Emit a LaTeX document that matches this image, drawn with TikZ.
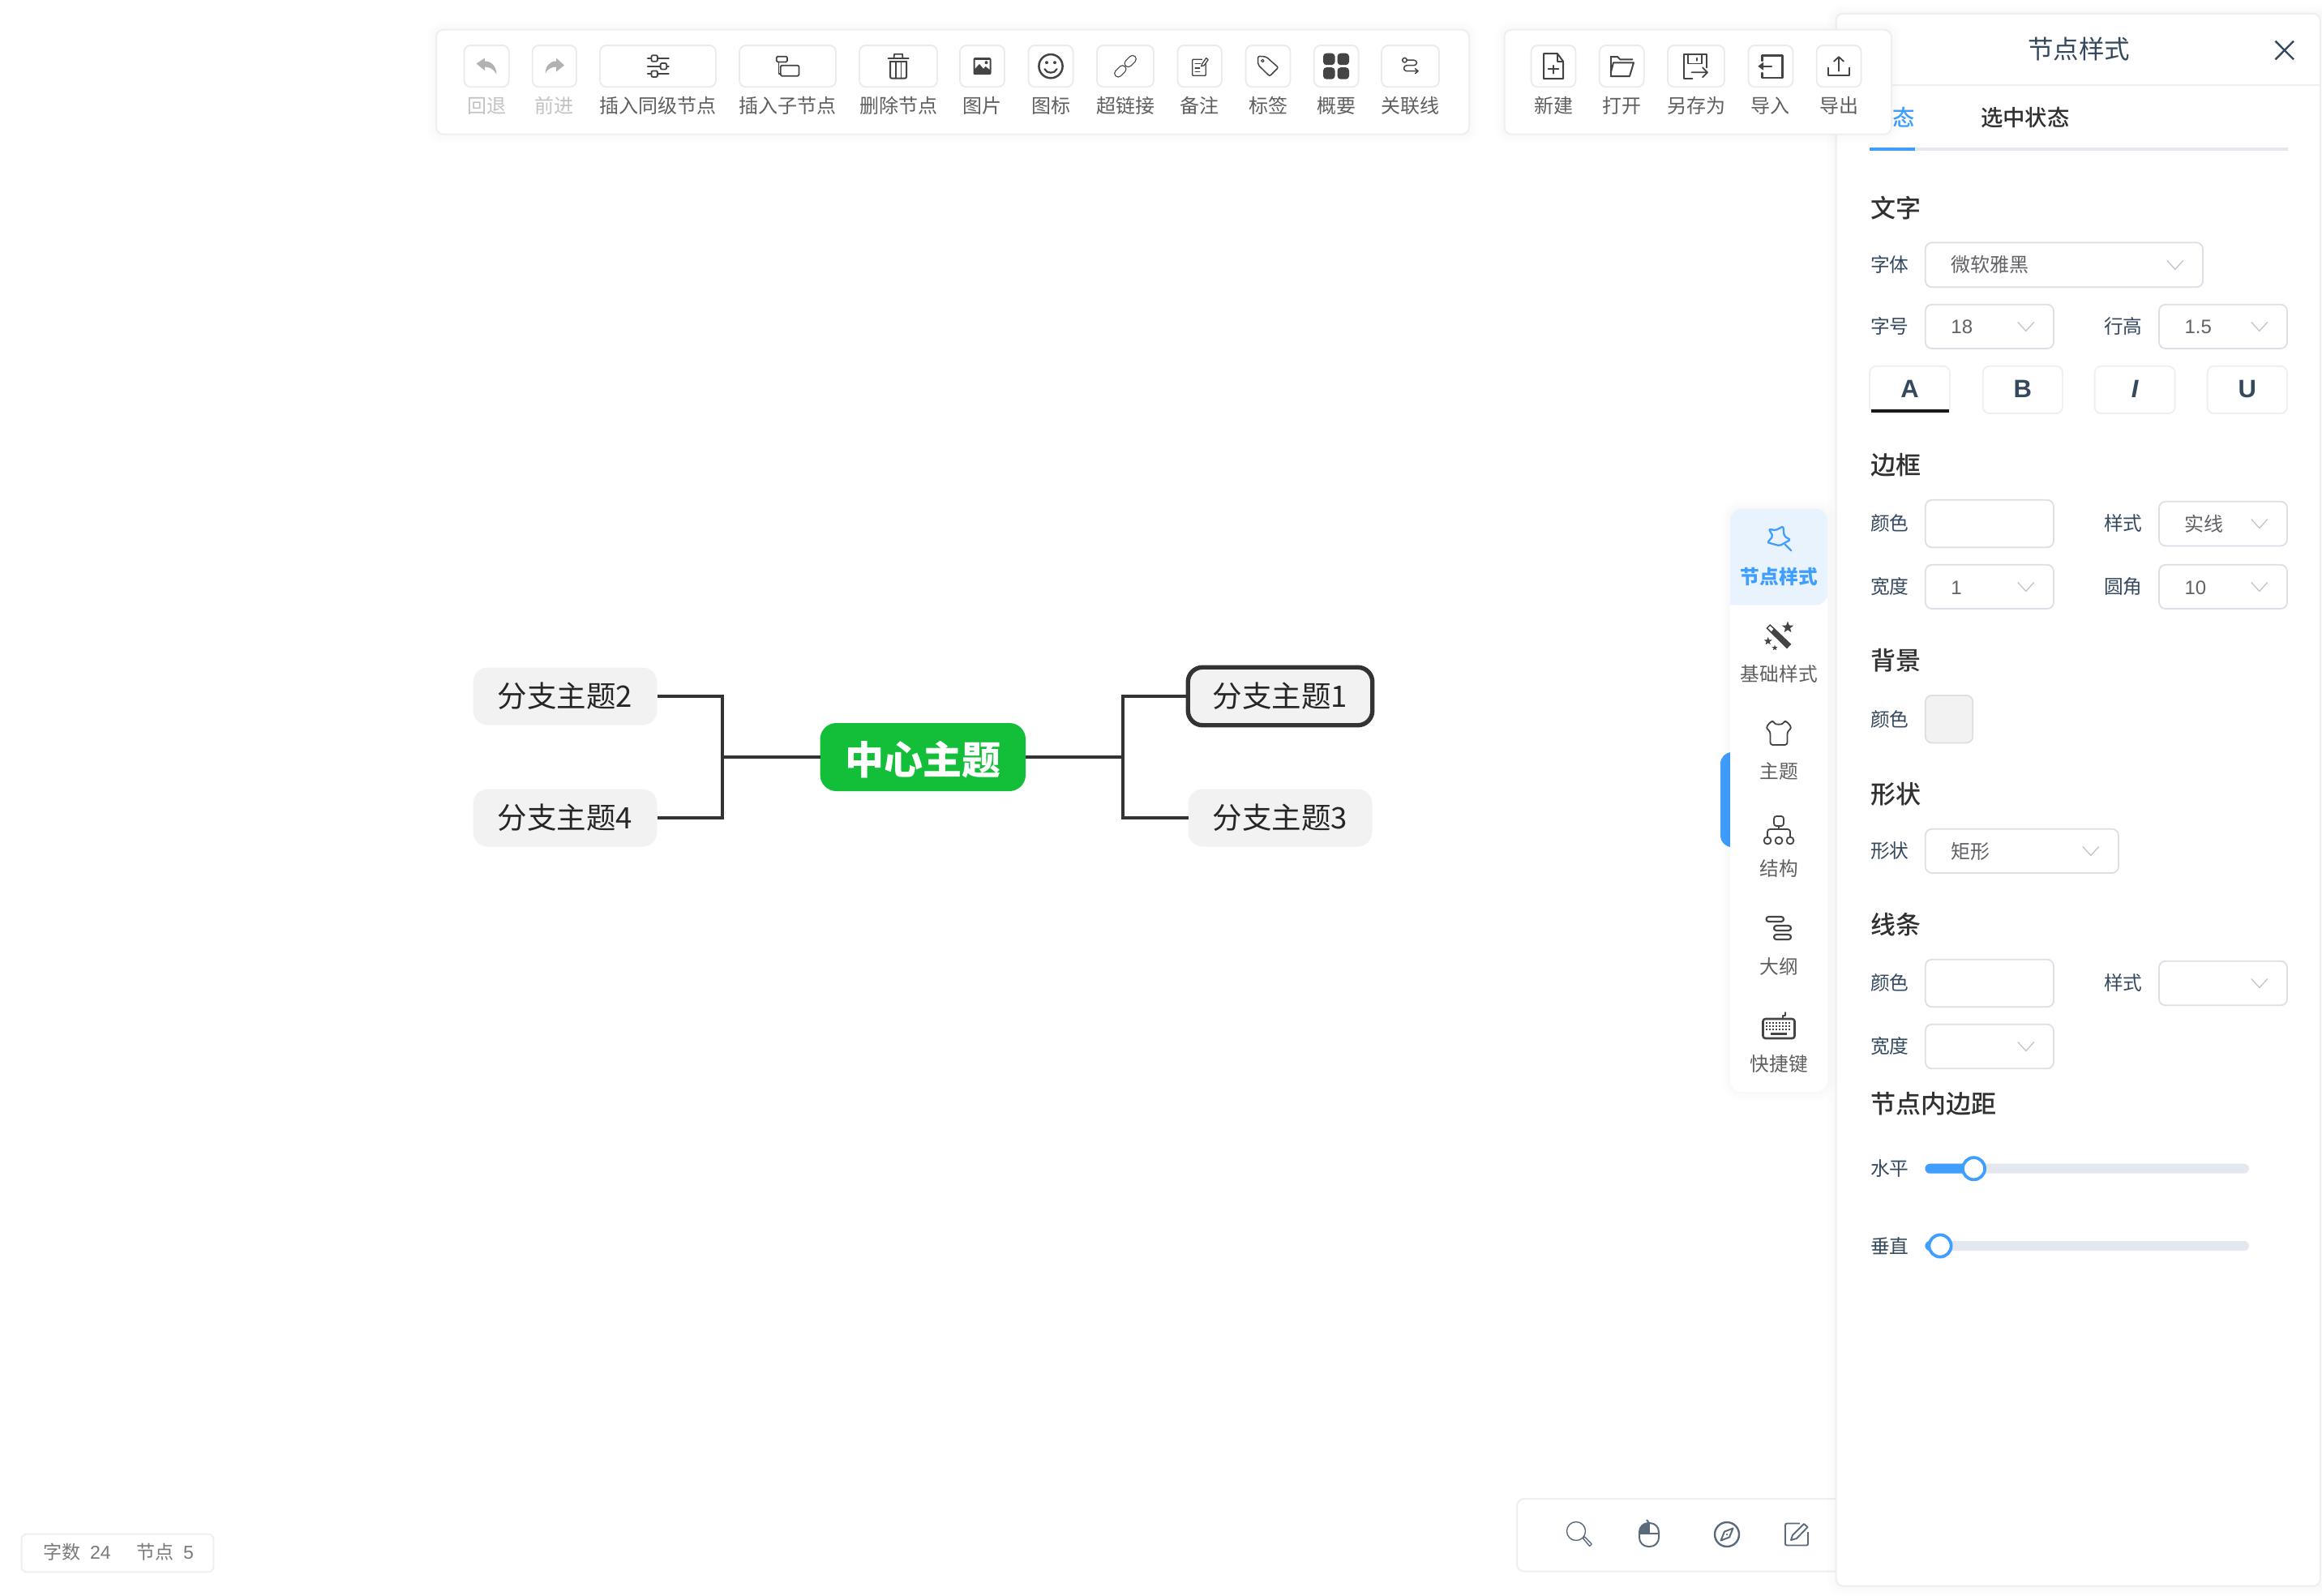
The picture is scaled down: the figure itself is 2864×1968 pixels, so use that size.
\documentclass[tikz,border=0pt]{standalone}
\usepackage{fontspec}
\setmainfont{Noto Sans CJK SC}
\newfontfamily\cjkmed{Noto Sans CJK SC Medium}
\newfontfamily\latn{Liberation Sans}
\definecolor{ink}{HTML}{444444}
\definecolor{lab}{HTML}{5F5F5F}
\definecolor{dim}{HTML}{C2C2C2}
\definecolor{edge}{HTML}{EFEFEF}
\definecolor{btnedge}{HTML}{EBEBEB}
\definecolor{field}{HTML}{DCDFE6}
\definecolor{chev}{HTML}{C0C4CC}
\definecolor{blue}{HTML}{409EFF}
\definecolor{navy}{HTML}{34495E}
\definecolor{head}{HTML}{303133}
\definecolor{val}{HTML}{606266}
\definecolor{track}{HTML}{E4E7ED}
\definecolor{green}{HTML}{13BE38}
\definecolor{pale}{HTML}{F2F2F2}
\definecolor{side}{HTML}{E9F3FE}
\definecolor{slate}{HTML}{5A6A7C}
\tikzset{
  txt/.style={font=\fontsize{#1}{#1}\selectfont, inner sep=0pt, outer sep=0pt, text height={0.88*#1pt}, text depth={0.12*#1pt}},
  tlabel/.style={txt=24, text=lab},
  tbox/.style={draw=btnedge, line width=1.8pt, rounded corners=8pt, fill=white},
  panelbox/.style={draw=edge, line width=2pt, rounded corners=9pt, fill=white},
  rowlabel/.style={txt=23.7, text=navy, anchor=west},
  heading/.style={txt=31, text=head, anchor=west, font=\fontsize{31}{31}\selectfont\cjkmed},
  fieldbox/.style={draw=field, line width=1.8pt, rounded corners=8pt, fill=white},
  fieldtext/.style={txt=24, text=val, anchor=west},
  chevron/.style={draw=chev, line width=1.3pt},
  mapnode/.style={txt=36.5, text=black!85, fill=pale, rounded corners=18pt, minimum width=227pt, minimum height=71pt},
  mapline/.style={draw=black!80, line width=3.6pt},
  icon/.style={draw=ink, line width=1.8pt, line join=round, line cap=round},
  sidelabel/.style={txt=23.7, text=lab},
}
\newcommand\softshadow[5]{\foreach \k in {4,8,...,24}{\draw[line width=\k pt, black, opacity=.003, rounded corners=#5] (#1,#2) rectangle (#3,#4);}}
\newcommand\tbtn[5][tlabel]{\draw[tbox] (#3,56) rectangle (#4,107.3);\node[#1] (#2) at ({(#3+#4)/2},130.7) {#5};}
\newcommand\selbox[7]{%
  \draw[fieldbox] (#2,#4) rectangle (#3,#5);
  \pgfmathsetmacro\cy{(#4+#5)/2}\pgfmathsetmacro\cx{#3-34.2}
  \node[fieldtext] (#1) at ({#2+31.6},\cy) {#6};
  \draw[chevron] (\cx-10,\cy-5.5) -- (\cx,\cy+5.5) -- (\cx+10,\cy-5.5);}
\newcommand\starfill[3]{\fill[ink] plot[samples at={0,...,9}] ({#1+#3*(1-0.58*mod(\x,2))*sin(36*\x)},{#2-#3*(1-0.58*mod(\x,2))*cos(36*\x)}) -- cycle;}
\begin{document}
\begin{tikzpicture}[x=1pt,y=-1pt]
\useasboundingbox (0,0) rectangle (2864,1968);
\fill[white] (0,0) rectangle (2864,1968);

% ---------- mind map
\node[mapnode, fill=green, text=white, minimum width=253.5pt, minimum height=84pt, rounded corners=20pt, txt=48, font=\fontsize{48}{48}\selectfont\bfseries] (nc) at (1138.3,934) {\raisebox{-3pt}{中心主题}};
\node[mapnode] (n2) at (697,859) {分支主题2\hspace{5pt}};
\node[mapnode] (n4) at (697,1009) {分支主题4\hspace{5pt}};
\node[mapnode, draw=black!80, line width=5.4pt, minimum width=227.5pt, minimum height=71.5pt] (n1) at (1579,859) {分支主题1\hspace{5pt}};
\node[mapnode] (n3) at (1579,1009) {分支主题3\hspace{5pt}};
\coordinate (lj) at (891,934);
\coordinate (rj) at (1384.7,934);
\draw[mapline] (nc.west) -- (lj);
\draw[mapline] (n2.east) -- (n2.east -| lj) -- (n4.east -| lj) -- (n4.east);
\draw[mapline] (nc.east) -- (rj);
\draw[mapline] (n1.west) -- (n1.west -| rj) -- (n3.west -| rj) -- (n3.west);

% ---------- counter, bottom left
\draw[panelbox, rounded corners=6pt] (26.7,1892.7) rectangle (263.3,1939.3);
\node[txt=23, text=black!52, anchor=west] (cw) at (53,1915) {字数};
\node[txt=23, text=black!52, anchor=west] (cwn) at (111,1915) {\latn 24};
\node[txt=23, text=black!52, anchor=west] (cn) at (168.5,1915) {节点};
\node[txt=23, text=black!52, anchor=west] (cnn) at (226,1915) {\latn 5};

% ---------- bottom right toolbar
\draw[panelbox] (1871,1849) rectangle (2300,1938.7);
\begin{scope}[shift={(1947.7,1893)}, draw=slate, line width=1.4pt]
  \draw (-3.7,-4) circle (11.5);
  \draw[line join=round] (4.5,4.5) -- (7,3) -- (15.5,12) -- (13,14.5) -- cycle;
\end{scope}
\begin{scope}[shift={(2034,1893)}]
  \begin{scope}
    \clip[rounded corners=11pt] (-12,-14) rectangle (12,15);
    \fill[slate] (-12,-14) rectangle (0,-1);
  \end{scope}
  \draw[slate, line width=2pt, rounded corners=11pt] (-12,-14) rectangle (12,15);
  \draw[slate, line width=2pt] (-12,-1) -- (12,-1) (0,-14) -- (0,-1);
  \draw[slate, line width=2pt] (0,-14) -- (-3,-18);
\end{scope}
\begin{scope}[shift={(2130,1893)}]
  \draw[slate, line width=2.4pt] (0,0) circle (15);
  \draw[slate, line width=2pt, line join=round] (-7.5,7.5) -- (-3,-3.5) -- (7.5,-7.5) -- (3,3.5) -- cycle;
  \fill[slate] (0,0) circle (1.3);
\end{scope}
\begin{scope}[shift={(2216,1893)}, slate]
  \draw[slate, line width=1.9pt, rounded corners=2pt] (4,-13.5) -- (-14,-13.5) -- (-14,13.5) -- (14,13.5) -- (14,-3);
  \draw[slate, line width=1.9pt, line join=round] (-7,7) -- (-5,1) -- (9,-13) -- (13.5,-9) -- (0,5) -- cycle;
\end{scope}

% ---------- right panel
\softshadow{2264.6}{16.7}{2900}{1956.7}{9pt}
\draw[panelbox, line width=2.2pt] (2264.6,16.7) rectangle (2862,1956.7);
\draw[edge, line width=2pt] (2264.6,105) -- (2862,105);
\node[txt=31.5, text=navy] (title) at (2564,60.7) {节点样式};
\draw[navy, line width=2.4pt] (2806.5,50.7) -- (2829,73.3) (2829,50.7) -- (2806.5,73.3);
\node[txt=27.4, text=blue, anchor=east, font=\fontsize{27.4}{27.4}\selectfont\cjkmed] (tab0) at (2362,145) {态};
\node[txt=27.4, text=head, anchor=west, font=\fontsize{27.4}{27.4}\selectfont\cjkmed] (tab1) at (2443,145) {选中状态};
\fill[track] (2306,182) rectangle (2822,186);
\fill[blue] (2306,182) rectangle (2362,186);

\node[heading] (h1) at (2307,256.7) {文字};
\node[rowlabel] (l1) at (2307,326.7) {字体};
\selbox{v1}{2374.8}{2717}{299.3}{354.3}{微软雅黑}{}
\node[rowlabel] (l2) at (2307,402.7) {字号};
\selbox{v2}{2374.8}{2533}{375.7}{430}{\latn 18}{}
\node[rowlabel] (l3) at (2595,402.7) {行高};
\selbox{v3}{2663}{2821}{375.7}{430}{\latn 1.5}{}
\foreach \a/\b/\n/\t in {2306/2405/fa/A,2445.7/2544/fb/B,2583.6/2682.6/fi/\itshape I,2722.6/2821/fu/U}{
  \draw[tbox, draw=edge] (\a,451.7) rectangle (\b,510);
  \node[txt=31, text=navy] (\n) at ({(\a+\b)/2},479) {\latn\bfseries\t};
}
\fill[black!90] (2308,505) rectangle (2404,509);

\node[heading] (h2) at (2307,574) {边框};
\node[rowlabel] (l4) at (2307,645.9) {颜色};
\draw[fieldbox] (2374.8,616.8) rectangle (2533,675.3);
\node[rowlabel] (l5) at (2595,645.9) {样式};
\selbox{v5}{2663}{2821}{618.7}{673.4}{实线}{}
\node[rowlabel] (l6) at (2307,723.5) {宽度};
\selbox{v6}{2374.8}{2533}{696.8}{751}{\latn 1}{}
\node[rowlabel] (l7) at (2595,723.5) {圆角};
\selbox{v7}{2663}{2821}{696.8}{751}{\latn 10}{}

\node[heading] (h3) at (2307,815) {背景};
\node[rowlabel] (l8) at (2307,887) {颜色};
\draw[fieldbox, fill=pale] (2374.8,857.9) rectangle (2433.3,916.4);

\node[heading] (h4) at (2307,980) {形状};
\node[rowlabel] (l9) at (2307,1049.6) {形状};
\selbox{v9}{2374.8}{2613}{1022.8}{1077}{矩形}{}

\node[heading] (h5) at (2307,1140.7) {线条};
\node[rowlabel] (l10) at (2307,1212.7) {颜色};
\draw[fieldbox] (2374.8,1183.7) rectangle (2533,1242.3);
\node[rowlabel] (l11) at (2595,1212.7) {样式};
\selbox{v11}{2663}{2821}{1185.7}{1240.3}{}{}
\node[rowlabel] (l12) at (2307,1290.7) {宽度};
\selbox{v12}{2374.8}{2533}{1263.7}{1318.3}{}{}

\node[heading] (h6) at (2307,1361.7) {节点内边距};
\node[rowlabel] (l13) at (2307,1441.7) {水平};
\fill[track, rounded corners=6pt] (2374.4,1435.7) rectangle (2773.9,1447.7);
\fill[blue, rounded corners=6pt] (2374.4,1435.7) rectangle (2434.5,1447.7);
\draw[blue, fill=white, line width=3.8pt] (2434.5,1441.7) circle (13.6);
\node[rowlabel] (l14) at (2307,1537) {垂直};
\fill[track, rounded corners=6pt] (2374.4,1531) rectangle (2773.9,1543);
\fill[blue, rounded corners=6pt] (2374.4,1531) rectangle (2393,1543);
\draw[blue, fill=white, line width=3.8pt] (2393,1537) circle (13.6);

% ---------- side bar
\fill[blue, rounded corners=14pt] (2122,928) rectangle (2170,1045);
\softshadow{2134}{627.7}{2254}{1346.8}{14pt}
\fill[white, rounded corners=14pt] (2134,627.7) rectangle (2254,1346.8);
\fill[side] (2134,746.4) [rounded corners=14pt] -- (2134,627.7) -- (2254,627.7) -- (2254,746.4) [sharp corners] -- cycle;
\node[sidelabel, text=blue, font=\fontsize{23.7}{23.7}\selectfont\bfseries] (s1) at (2194.3,711.4) {节点样式};
\node[sidelabel] (s2) at (2194.3,831.5) {基础样式};
\node[sidelabel] (s3) at (2194.3,951) {主题};
\node[sidelabel] (s4) at (2194.3,1071.7) {结构};
\node[sidelabel] (s5) at (2194.3,1192) {大纲};
\node[sidelabel] (s6) at (2194.3,1312) {快捷键};
% star
\begin{scope}[shift={(2194,662.6)}]
  \draw[blue, line width=2.3pt, line join=round, rounded corners=2pt] (-12.3,-10) -- (-4,-8.3) -- (5.3,-13.3) -- (6.7,-1) -- (14.3,3.3) -- (1,10.7) -- (-14,6.7) -- (-7.3,-1) -- cycle;
  \draw[blue, line width=2.3pt, line cap=round] (7.7,9) -- (15.3,16.7);
\end{scope}
% wand
\begin{scope}[shift={(2194,783)}]
  \fill[ink] (-15.7,-8) -- (-10.7,-13) -- (15.3,11.7) -- (10,17.3) -- cycle;
  \fill[white] (-13.3,-8) -- (-10.7,-10.7) -- (-6.7,-7) -- (-9,-4) -- cycle;
  \starfill{11}{-9}{7.5}
  \starfill{-13.3}{8}{5.2}
  \starfill{-5}{16.3}{3.6}
\end{scope}
% shirt
\begin{scope}[shift={(2194,904)}]
  \draw[icon, rounded corners=3pt] (-6,-14) .. controls (-4,-10) and (4,-10) .. (6,-14) -- (10,-14) -- (16,-6) -- (10.5,-1.5) -- (10.5,15) -- (-10.5,15) -- (-10.5,-1.5) -- (-16,-6) -- (-10,-14) -- cycle;
\end{scope}
% hierarchy
\begin{scope}[shift={(2194,1024)}]
  \draw[icon, rounded corners=3pt] (-6,-17) rectangle (6,-5);
  \draw[icon, rounded corners=3pt] (0,-5) -- (0,-1);
  \draw[icon, rounded corners=3pt] (-14,9) -- (-14,-1) -- (14,-1) -- (14,9);
  \draw[icon] (-14,13) circle (4.4) (0,13) circle (4.4) (14,13) circle (4.4);
\end{scope}
% outline
\begin{scope}[shift={(2194,1145)}]
  \draw[icon, line width=2.2pt, rounded corners=3pt] (-15.5,-14) rectangle (6,-8);
  \draw[icon, line width=2.2pt, rounded corners=3pt] (-6,-3) rectangle (15,3);
  \draw[icon, line width=2.2pt, rounded corners=3pt] (-6,8) rectangle (15,14);
\end{scope}
% keyboard
\begin{scope}[shift={(2194,1266)}]
  \draw[icon, line width=2.6pt, rounded corners=3pt] (-19.5,-9) rectangle (19.5,15);
  \draw[icon] (5,-9) -- (5,-13) -- (8,-13) -- (8,-17);
  \foreach \yy in {-4,0,4}{\foreach \xx in {-15,-11,...,15}{\fill[ink] (\xx-1.2,\yy-1.2) rectangle (\xx+1.2,\yy+1.2);}}
  \fill[ink] (-10,8) rectangle (10,11);
\end{scope}

% ---------- top toolbar, left
\softshadow{538}{36.7}{1812}{165.7}{9pt}
\draw[panelbox] (538,36.7) rectangle (1812,165.7);
\tbtn[tlabel,text=dim]{b1}{572.5}{627.7}{回退}
\tbtn[tlabel,text=dim]{b2}{656.7}{711}{前进}
\tbtn{b3}{740}{883}{插入同级节点}
\tbtn{b4}{912}{1031}{插入子节点}
\tbtn{b5}{1060}{1156}{删除节点}
\tbtn{b6}{1184}{1239}{图片}
\tbtn{b7}{1268.5}{1323.6}{图标}
\tbtn{b8}{1353}{1423}{超链接}
\tbtn{b9}{1452.4}{1507}{备注}
\tbtn{b10}{1536.6}{1591.5}{标签}
\tbtn{b11}{1620.8}{1675.6}{概要}
\tbtn{b12}{1704}{1775}{关联线}
% undo / redo
\begin{scope}[shift={(600,81.5)}]
  \fill[black!30] (-12.5,-3) -- (-2,-10) -- (-2,-6) .. controls (6,-6) and (12,0) .. (12.5,10) .. controls (9,4) and (4,1) .. (-2,1) -- (-2,5.5) -- cycle;
\end{scope}
\begin{scope}[shift={(684,81.5)}, xscale=-1]
  \fill[black!30] (-12,-1) -- (-2,-10) -- (-2,-6) .. controls (6,-6) and (11,0) .. (11.5,9) .. controls (9,4) and (4,1) .. (-2,1) -- (-2,7) -- cycle;
\end{scope}
% sliders
\begin{scope}[shift={(811.8,81.7)}]
  \draw[icon] (-13,-9.7) -- (13,-9.7) (-13,0) -- (13,0) (-13,9.5) -- (13,9.5);
  \foreach \xx/\yy in {-4.6/-9.7, 6.6/0, -4.6/9.5}{\draw[icon, fill=white, rounded corners=2pt] (\xx-3.8,\yy-3.8) rectangle (\xx+3.8,\yy+3.8);}
\end{scope}
% child node
\begin{scope}[shift={(971.5,81.7)}]
  \draw[icon, line cap=butt, rounded corners=1.5pt] (-13.8,-12) rectangle (-0.5,-5.3);
  \draw[icon, rounded corners=1.5pt] (-8.7,-1) rectangle (14,12);
  \draw[icon] (-11,-5) -- (-11,9) -- (-8.7,9);
\end{scope}
% trash
\begin{scope}[shift={(1108,81.7)}]
  \draw[icon, line width=2pt] (-12.5,-9.5) -- (12.5,-9.5);
  \draw[icon] (-5.5,-9.5) -- (-5,-15) -- (5,-15) -- (5.5,-9.5);
  \draw[icon, line width=2pt, rounded corners=2pt] (-10,-6) -- (-10,15) -- (10,15) -- (10,-6);
  \draw[icon] (-10,-6) -- (10,-6) (-3.4,-6) -- (-3.4,15) (3.4,-6) -- (3.4,15);
\end{scope}
% image
\begin{scope}[shift={(1211.5,81.7)}]
  \fill[ink, rounded corners=2pt] (-11,-10.5) rectangle (11,10.5);
  \fill[white] (-9,-7.5) -- (9,-7.5) -- (9,4) -- (4,0) -- (1.5,3) -- (-3.5,-3) -- (-9,3) -- cycle;
  \fill[ink] (5,-4.5) circle (2);
\end{scope}
% smile
\begin{scope}[shift={(1296,81.7)}]
  \draw[ink, line width=2.5pt] (0,0) circle (14.6);
  \fill[ink] (-5,-4.5) circle (2) (5,-4.5) circle (2);
  \draw[icon, line width=2.2pt] (-7.5,3.5) .. controls (-5,9.5) and (5,9.5) .. (7.5,3.5);
\end{scope}
% link
\begin{scope}[shift={(1388,81.7)}, rotate=45]
  \draw[icon, line width=1.1pt, rounded corners=4.5pt] (-17,-4.5) rectangle (-0.5,4.5);
  \draw[icon, line width=1.1pt, rounded corners=4.5pt] (0.5,-4.5) rectangle (17,4.5);
\end{scope}
% note
\begin{scope}[shift={(1479.7,81.7)}]
  \draw[icon, line width=1.3pt, rounded corners=1pt] (3,-8.4) -- (-9,-8.4) -- (-9,11.6) -- (7.6,11.6) -- (7.6,-3);
  \draw[icon, line width=1.3pt] (-5.5,-3) -- (1,-3) (-5.5,2.3) -- (0,2.3) (-5.5,7) -- (0,7);
  \draw[icon, line width=1.3pt, line join=round] (2,0) -- (3,-3) -- (8,-10) -- (10.5,-8) -- (5.5,-1) -- cycle;
\end{scope}
% tag
\begin{scope}[shift={(1564,81.7)}]
  \draw[icon, line width=1.5pt, rounded corners=2pt] (-12.3,-12.4) -- (-2.3,-11.7) -- (12.7,1.6) -- (2,12.3) -- (-12.3,-1.7) -- cycle;
  \draw[icon, line width=1.2pt] (-6.7,-6.7) circle (1.7);
\end{scope}
% summary
\begin{scope}[shift={(1648,81.7)}]
  \foreach \xx/\yy in {-16/-16, 1.5/-16, -16/1.5, 1.5/1.5}{\fill[ink, rounded corners=4pt] (\xx,\yy) rectangle (\xx+14.5,\yy+14.5);}
\end{scope}
% association
\begin{scope}[shift={(1739.5,81.7)}]
  \draw[icon, line width=1.5pt] (-7,-7.5) circle (2.8);
  \draw[icon, line width=1.5pt, rounded corners=3.5pt] (-4.2,-7.5) -- (8,-7.5) -- (8,-1) -- (-8,-1) -- (-8,6) -- (9,6);
  \draw[icon, line width=1.5pt] (6,3) -- (9.5,6) -- (6,9);
\end{scope}

% ---------- top toolbar, right
\softshadow{1855.5}{36.7}{2333}{165.7}{9pt}
\draw[panelbox] (1855.5,36.7) rectangle (2333,165.7);
\tbtn{c1}{1888.6}{1943.5}{新建}
\tbtn{c2}{1972.8}{2027.7}{打开}
\tbtn{c3}{2057}{2127}{另存为}
\tbtn{c4}{2156.5}{2211.4}{导入}
\tbtn{c5}{2240.7}{2295.6}{导出}
\begin{scope}[shift={(1916,81.7)}]
  \draw[icon, line width=2pt] (-12,-15.5) -- (5,-15.5) -- (12,-6) -- (12,15.5) -- (-12,15.5) -- cycle;
  \draw[icon, line width=1.6pt] (5,-15.5) -- (5,-6) -- (12,-6);
  \draw[icon, line width=1.6pt] (0,-1) -- (0,9) (-6.5,3.5) -- (6.5,3.5);
\end{scope}
\begin{scope}[shift={(2000,81.7)}]
  \draw[icon, line width=2pt] (-13.3,-11.7) -- (-5,-11.7) -- (-1.7,-8.4) -- (13.3,-8.4);
  \draw[icon, line width=2pt] (-13.3,12.3) -- (-13.3,-11.7);
  \draw[icon, line width=2pt] (-13.3,12.3) -- (10,12.3) -- (15,-4.4) -- (-10,-4.4) -- (-13.3,8);
\end{scope}
\begin{scope}[shift={(2092,81.7)}]
  \draw[icon, line width=2.2pt] (-4.7,15) -- (-15.3,15) -- (-15.3,-14.4) -- (13,-14.4) -- (13,1.7);
  \draw[icon, line width=1.8pt] (-10.3,-14.4) -- (-10.3,-3.3) -- (7.3,-3.3) -- (7.3,-14.4);
  \draw[icon, line width=1.8pt] (1.3,-10) -- (1.3,-7);
  \draw[icon, line width=1.8pt] (-5.3,7.6) -- (14,7.6) (8,1.6) -- (14,7.6) -- (8,13.6);
\end{scope}
\begin{scope}[shift={(2184,81.7)}]
  \draw[icon, line width=2.4pt] (-10.7,-6.7) -- (-10.7,-13.4) -- (14.3,-13.4) -- (14.3,14.3) -- (-10.7,14.3) -- (-10.7,8.3);
  \draw[icon, line width=2pt] (-13,0) -- (1,0);
  \fill[ink] (-15.7,0) -- (-9,-5) -- (-9,5) -- cycle;
\end{scope}
\begin{scope}[shift={(2268,81.7)}]
  \draw[icon, line width=2.2pt] (-13,2) -- (-13,11.5) -- (13,11.5) -- (13,2);
  \draw[icon, line width=1.8pt] (0,6) -- (0,-11.5) (-6,-6) -- (0,-11.5) -- (6,-6);
\end{scope}
\end{tikzpicture}
\end{document}
